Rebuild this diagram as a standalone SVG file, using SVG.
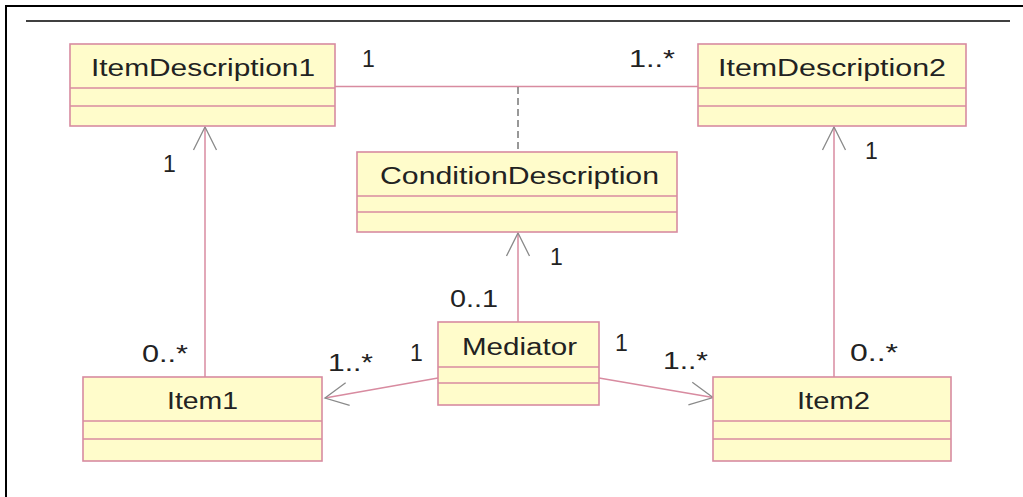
<svg xmlns="http://www.w3.org/2000/svg" width="1023" height="497" viewBox="0 0 1023 497">
<style>
.box{fill:#FFFCCB;stroke:#D88BA0;stroke-width:1.6}
.div{stroke:#D88BA0;stroke-width:1.4}
.name{font-family:"Liberation Sans",Arial,sans-serif;font-size:23px;fill:#222;text-anchor:middle}
.mult{font-family:"Liberation Sans",Arial,sans-serif;font-size:23px;fill:#222}
.assoc{stroke:#D88BA0;stroke-width:1.5;fill:none}
.dash{stroke:#777;stroke-width:1.5;stroke-dasharray:7,4;fill:none}
</style>
<defs>
<marker id="open" markerUnits="userSpaceOnUse" markerWidth="30" markerHeight="30" refX="0" refY="0" viewBox="-26 -15 30 30" orient="auto" overflow="visible">
<path d="M-23,-11.5 L0,0 L-23,11.5" fill="none" stroke="#8A8A8A" stroke-width="1.3"/>
</marker>
</defs>
<rect width="1023" height="497" fill="#FFFFFF"/>
<g id="frame">
<line x1="6" y1="6" x2="1023" y2="6" stroke="#000" stroke-width="2"/>
<line x1="6" y1="5" x2="6" y2="497" stroke="#000" stroke-width="2"/>
<line x1="26" y1="21" x2="1010" y2="21" stroke="#000" stroke-width="1.5"/>
</g>
<g id="connectors">
<line class="assoc" x1="335" y1="86.5" x2="698" y2="86.5"/>
<line class="dash" x1="518" y1="87" x2="518" y2="152"/>
<line class="assoc" x1="205" y1="377" x2="205" y2="127" marker-end="url(#open)"/>
<line class="assoc" x1="834" y1="377" x2="834" y2="127" marker-end="url(#open)"/>
<line class="assoc" x1="518" y1="322" x2="518" y2="233" marker-end="url(#open)"/>
<line class="assoc" x1="438" y1="378" x2="325" y2="398" marker-end="url(#open)"/>
<line class="assoc" x1="599" y1="378" x2="713" y2="397.5" marker-end="url(#open)"/>
<text class="mult" x="362" y="67">1</text>
<text class="mult" x="629" y="67" textLength="46" lengthAdjust="spacingAndGlyphs">1..*</text>
<text class="mult" x="163" y="172">1</text>
<text class="mult" x="865" y="159">1</text>
<text class="mult" x="550" y="265">1</text>
<text class="mult" x="450" y="307" textLength="48" lengthAdjust="spacingAndGlyphs">0..1</text>
<text class="mult" x="142" y="362" textLength="46" lengthAdjust="spacingAndGlyphs">0..*</text>
<text class="mult" x="328" y="371" textLength="45" lengthAdjust="spacingAndGlyphs">1..*</text>
<text class="mult" x="410" y="361">1</text>
<text class="mult" x="615" y="351">1</text>
<text class="mult" x="663" y="369" textLength="45" lengthAdjust="spacingAndGlyphs">1..*</text>
<text class="mult" x="850" y="361" textLength="48" lengthAdjust="spacingAndGlyphs">0..*</text>
</g>
<g id="ItemDescription1">
<rect class="box" x="70" y="44" width="265" height="82"/>
<line class="div" x1="70" y1="88" x2="335" y2="88"/>
<line class="div" x1="70" y1="106" x2="335" y2="106"/>
<text class="name" x="203" y="76" textLength="224" lengthAdjust="spacingAndGlyphs">ItemDescription1</text>
</g>
<g id="ItemDescription2">
<rect class="box" x="698" y="44" width="268" height="82"/>
<line class="div" x1="698" y1="88" x2="966" y2="88"/>
<line class="div" x1="698" y1="106" x2="966" y2="106"/>
<text class="name" x="832" y="76" textLength="228" lengthAdjust="spacingAndGlyphs">ItemDescription2</text>
</g>
<g id="ConditionDescription">
<rect class="box" x="357" y="152" width="320" height="80"/>
<line class="div" x1="357" y1="196" x2="677" y2="196"/>
<line class="div" x1="357" y1="212" x2="677" y2="212"/>
<text class="name" x="519.5" y="184" textLength="279" lengthAdjust="spacingAndGlyphs">ConditionDescription</text>
</g>
<g id="Mediator">
<rect class="box" x="438" y="322" width="161" height="83"/>
<line class="div" x1="438" y1="367" x2="599" y2="367"/>
<line class="div" x1="438" y1="383" x2="599" y2="383"/>
<text class="name" x="519.5" y="355" textLength="115" lengthAdjust="spacingAndGlyphs">Mediator</text>
</g>
<g id="Item1">
<rect class="box" x="83" y="377" width="239" height="84"/>
<line class="div" x1="83" y1="421" x2="322" y2="421"/>
<line class="div" x1="83" y1="439" x2="322" y2="439"/>
<text class="name" x="202.5" y="409" textLength="71" lengthAdjust="spacingAndGlyphs">Item1</text>
</g>
<g id="Item2">
<rect class="box" x="713" y="377" width="238" height="84"/>
<line class="div" x1="713" y1="421" x2="951" y2="421"/>
<line class="div" x1="713" y1="439" x2="951" y2="439"/>
<text class="name" x="833.5" y="409" textLength="73" lengthAdjust="spacingAndGlyphs">Item2</text>
</g>
</svg>
